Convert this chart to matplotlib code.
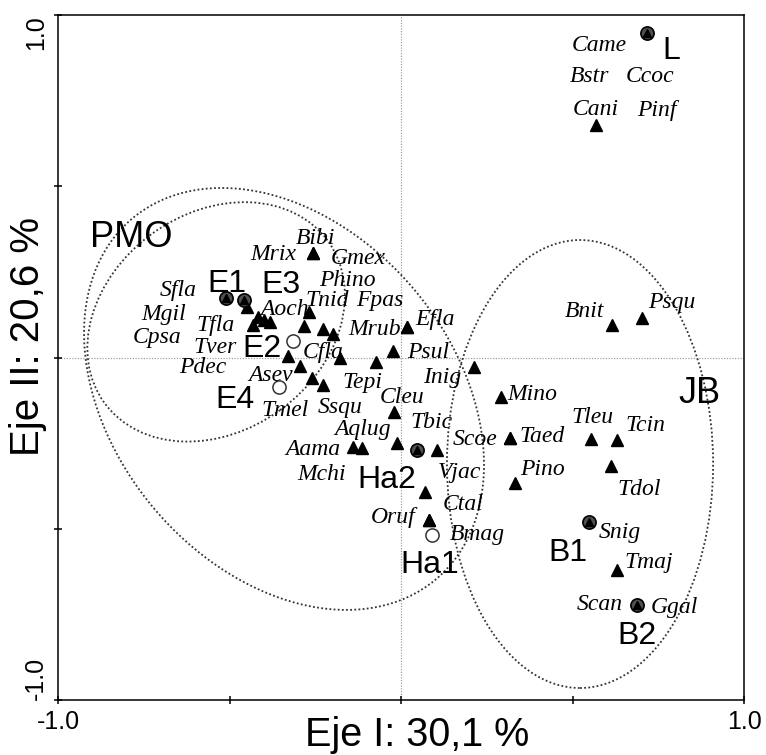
import matplotlib
matplotlib.use('Agg')
import matplotlib.pyplot as plt
from matplotlib.patches import Ellipse

plt.rcParams['font.family'] = ['Liberation Sans', 'DejaVu Sans']

# ---------------- data ----------------
species_names = ['Came', 'Bstr', 'Ccoc', 'Pinf', 'Cani', 'Bibi', 'Mrix', 'Gmex', 'Phino',
                 'Tnid', 'Fpas', 'Aoch', 'Efla', 'Mrub', 'Psul', 'Inig', 'Cfla', 'Tepi',
                 'Cleu', 'Tbic', 'Aqlug', 'Aama', 'Mchi', 'Scoe', 'Taed', 'Vjac', 'Ctal',
                 'Oruf', 'Bmag', 'Mino', 'Pino', 'Tleu', 'Tcin', 'Tdol', 'Bnit', 'Psqu',
                 'Snig', 'Tmaj', 'Scan', 'Ggal', 'Sfla', 'Mgil', 'Cpsa', 'Tfla', 'Tver',
                 'Pdec', 'Asev', 'Tmel', 'Ssqu']
species_x = [0.716, 0.716, 0.716, 0.716, 0.568, -0.256, -0.256, -0.227, -0.282,
             -0.267, -0.197, -0.382, 0.017, 0.017, -0.022, 0.214, -0.178, -0.074,
             -0.021, 0.105, -0.013, -0.139, -0.114, 0.318, 0.318, 0.048, 0.070,
             0.082, 0.082, 0.291, 0.332, 0.554, 0.631, 0.611, 0.614, 0.702,
             0.548, 0.631, 0.687, 0.687, -0.511, -0.457, -0.450, -0.431, -0.416,
             -0.399, -0.294, -0.260, -0.228]
species_y = [0.947, 0.947, 0.947, 0.947, 0.679, 0.305, 0.305, 0.082, 0.092,
             0.134, 0.069, 0.105, 0.090, 0.090, 0.019, -0.029, -0.001, -0.012,
             -0.158, -0.270, -0.251, -0.261, -0.265, -0.234, -0.234, -0.269, -0.392,
             -0.474, -0.474, -0.114, -0.366, -0.239, -0.241, -0.317, 0.095, 0.114,
             -0.479, -0.620, -0.723, -0.723, 0.173, 0.168, 0.147, 0.095, 0.119,
             0.109, -0.025, -0.061, -0.080]
unlabeled_x = [-0.328]
unlabeled_y = [0.003]

site_names = ['L', 'E1', 'E3', 'E2', 'E4', 'Ha2', 'Ha1', 'B1', 'B2']
site_x = [0.716, -0.511, -0.457, -0.316, -0.356, 0.048, 0.090, 0.548, 0.687]
site_y = [0.947, 0.173, 0.168, 0.047, -0.086, -0.269, -0.518, -0.479, -0.723]

group_names = ['PMO', 'JB']
group_x = [-0.785, 0.869]
group_y = [0.361, -0.095]

# group envelopes: centre x, centre y, width, height, angle
env_cx = [-0.539, -0.341, 0.522]
env_cy = [0.104, -0.121, -0.311]
env_w = [0.805, 1.376, 0.776]
env_h = [0.636, 0.992, 1.308]
env_ang = [36, -50, 0]

x_ticks = [-1.0, -0.5, 0.0, 0.5, 1.0]
x_ticklabels = ['-1.0', '', '', '', '1.0']
y_ticks = [-1.0, -0.5, 0.0, 0.5, 1.0]
y_ticklabels = ['-1.0', '', '', '', '1.0']
x_title = 'Eje I: 30,1 %'
y_title = 'Eje II: 20,6 %'

# label offsets (pixels, to visual text centre)
sp_dx = [-47, -57, 3, 10, 0, 2, -40, 35, 43,
         18, 46, 15, 28, -32, 35, -32, -17, -13,
         8, -5, -34, -40, -40, -35, 32, 42, 38,
         -36, 48, 31, 28, 1, 28, 29, -27, 30,
         31, 31, -37, 38, -48, -81, -90, -38, -43,
         -61, -30, -27, 17]
sp_dy = [-10, -41, -41, -75, 18, 17, 1, 73, 48,
         14, 36, 15, 10, 0, 1, -8, 8, -18,
         17, 30, 16, 0, -24, 1, 4, -20, -10,
         5, -12, 5, 16, 24, 17, -21, 16, 18,
         -8, 10, 3, 0, 10, -12, -28, 2, -28,
         -45, -7, -30, -20]
site_dx = [25, 1, 37, -31, -44, -31, -2, -21, 0]
site_dy = [-14, 18, 18, -4, -10, -27, -27, -28, -27]

# ---------------- figure ----------------
W, H = 766, 755
fig = plt.figure(figsize=(W / 100, H / 100), dpi=100)
ax = fig.add_axes([58 / W, 1 - 700 / H, 686 / W, 685 / H])
ax.set_xlim(-1, 1)
ax.set_ylim(-1, 1)

ax.axhline(0, color='#a0a0a0', lw=0.9, ls=(0, (1, 1.2)), zorder=1)
ax.axvline(0, color='#a0a0a0', lw=0.9, ls=(0, (1, 1.2)), zorder=1)

for cx, cy, w, h, a in zip(env_cx, env_cy, env_w, env_h, env_ang):
    ax.add_patch(Ellipse((cx, cy), w, h, angle=a, fill=False, ec='#333333',
                         lw=1.3, ls=(0, (1, 1.3)), zorder=2))

site_pts = set(zip(site_x, site_y))
free_x = [x for x, y in zip(species_x, species_y) if (x, y) not in site_pts] + unlabeled_x
free_y = [y for x, y in zip(species_x, species_y) if (x, y) not in site_pts] + unlabeled_y
ax.plot(free_x, free_y, '^', ms=8.5, color='black', ls='none', zorder=4)

sp_pts = set(zip(species_x, species_y))
for sx, sy in zip(site_x, site_y):
    if (sx, sy) in sp_pts:
        ax.plot(sx, sy, 'o', ms=9.5, mfc='#505050', mec='black', mew=1.2, zorder=5)
        ax.plot(sx, sy, '^', ms=6, color='black', zorder=6)
    else:
        ax.plot(sx, sy, 'o', ms=9.5, mfc='white', mec='#333333', mew=1.1, zorder=5)

for n, x, y, dx, dy in zip(species_names, species_x, species_y, sp_dx, sp_dy):
    ax.annotate(n, (x, y), xytext=(dx, dy - 8), textcoords='offset pixels',
                ha='center', va='baseline', fontsize=17, family='Liberation Serif',
                style='italic', color='black', zorder=7)

for n, x, y, dx, dy in zip(site_names, site_x, site_y, site_dx, site_dy):
    ax.annotate(n, (x, y), xytext=(dx, dy - 11.5), textcoords='offset pixels',
                ha='center', va='baseline', fontsize=23, color='black', zorder=7)

for n, x, y in zip(group_names, group_x, group_y):
    ax.annotate(n, (x, y), xytext=(0, -13), textcoords='offset pixels',
                ha='center', va='baseline', fontsize=26, color='black', zorder=7)

for s in ax.spines.values():
    s.set_linewidth(1.1)
    s.set_color('black')

ax.set_xticks(x_ticks)
ax.set_xticklabels(x_ticklabels, fontsize=18)
ax.set_yticks(y_ticks)
ax.set_yticklabels(y_ticklabels, fontsize=18, rotation=90)
ax.tick_params(direction='inout', length=6, width=1.1, pad=4)
ylabs = ax.get_yticklabels()
ylabs[0].set_va('bottom')
ylabs[-1].set_va('top')

fig.text(417 / W, 1 - 746 / H, x_title, ha='center', va='baseline', fontsize=28.5)
fig.text(28 / W, 1 - 337 / H, y_title, ha='center', va='center', fontsize=29,
         rotation=90)

fig.savefig('out.png', dpi=100)
